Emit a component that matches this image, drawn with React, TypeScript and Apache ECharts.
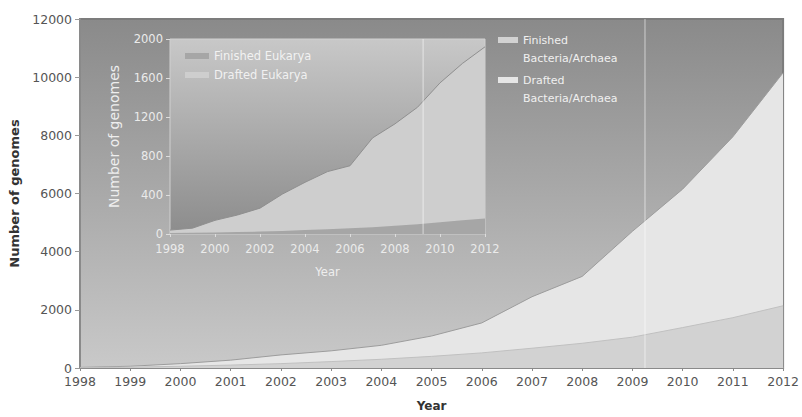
import React, { useEffect, useRef } from "react";
import * as echarts from "echarts";

// Years shared by both panels
const years = [1998, 1999, 2000, 2001, 2002, 2003, 2004, 2005, 2006, 2007, 2008, 2009, 2010, 2011, 2012];

// Bacteria/Archaea genome counts (finished at the bottom, drafted stacked on top)
const finishedBacteria = [10, 30, 60, 100, 150, 220, 300, 400, 520, 680, 850, 1060, 1390, 1730, 2140];
const draftedBacteria = [10, 30, 90, 170, 300, 370, 480, 700, 1030, 1770, 2300, 3640, 4760, 6220, 8010];

// Eukarya genome counts (inset, stacked the same way)
const finishedEukarya = [10, 12, 15, 20, 25, 30, 40, 50, 60, 70, 85, 100, 120, 140, 160];
const draftedEukarya = [30, 48, 125, 175, 240, 380, 490, 590, 640, 915, 1045, 1200, 1430, 1610, 1760];

// Date marked by the vertical guide line
const markerYear = 2009.25;

// Axis ranges
const mainMax = 12000;
const insetMax = 2000;

const FONT = "DejaVu Sans";

const pairs = (vals: number[]) => years.map((y, i) => [y, vals[i]]);
// Top edge of the drafted band = finished + drafted
const stacked = (base: number[], top: number[]) => years.map((y, i) => [y, base[i] + top[i]]);

// Legend label: first line sits beside the swatch, second line below it
const twoLine = (n: string) => " \n" + n.replace(" ", "\n");

export default function App() {
  const ref = useRef<HTMLDivElement>(null);

  useEffect(() => {
    if (!ref.current) return;
    const chart = echarts.init(ref.current, null, { renderer: "svg" });

    const guideSeries = (xi: number, top: number) => ({
      type: "line",
      xAxisIndex: xi,
      yAxisIndex: xi,
      data: [
        [markerYear, 0],
        [markerYear, top],
      ],
      showSymbol: false,
      silent: true,
      lineStyle: { color: "rgba(255,255,255,0.45)", width: 1.3 },
      z: 6,
    });

    const legendText = { color: "#f0f0f0", fontSize: 11, lineHeight: 18 };

    chart.setOption({
      animation: false,
      textStyle: { fontFamily: FONT },
      grid: [
        {
          left: 80,
          right: 15,
          top: 19,
          bottom: 44,
          show: true,
          borderColor: "#7c7c7c",
          borderWidth: 2,
          backgroundColor: new echarts.graphic.LinearGradient(0, 0, 0, 1, [
            { offset: 0, color: "#8a8a8a" },
            { offset: 0.5, color: "#a9a9a9" },
            { offset: 1, color: "#c9c9c9" },
          ]),
        },
        {
          left: 170,
          right: 317,
          top: 39,
          bottom: 183,
          show: true,
          borderColor: "#d0d0d0",
          borderWidth: 1,
          backgroundColor: new echarts.graphic.LinearGradient(0, 0, 0, 1, [
            { offset: 0, color: "#c8c8c8" },
            { offset: 1, color: "#8c8c8c" },
          ]),
        },
      ],
      xAxis: [
        {
          gridIndex: 0,
          type: "value",
          min: 1998,
          max: 2012,
          interval: 1,
          name: "Year",
          nameLocation: "middle",
          nameGap: 32,
          nameTextStyle: { fontFamily: FONT, fontSize: 12, fontWeight: "bold", color: "#333" },
          axisLine: { lineStyle: { color: "#8a8a8a", width: 2 } },
          axisTick: { show: true, length: 3, lineStyle: { color: "#8a8a8a" } },
          axisLabel: { color: "#555", fontSize: 12.5, margin: 7, formatter: (v: number) => String(v) },
          splitLine: { show: false },
        },
        {
          gridIndex: 1,
          type: "value",
          min: 1998,
          max: 2012,
          interval: 2,
          name: "Year",
          nameLocation: "middle",
          nameGap: 32,
          nameTextStyle: { fontFamily: FONT, fontSize: 11.5, color: "#eeeeee" },
          axisLine: { show: false },
          axisTick: { show: true, length: 3, lineStyle: { color: "#dddddd" } },
          axisLabel: { color: "#ebebeb", fontSize: 11.5, margin: 9, formatter: (v: number) => String(v) },
          splitLine: { show: false },
        },
      ],
      yAxis: [
        {
          gridIndex: 0,
          type: "value",
          min: 0,
          max: mainMax,
          interval: 2000,
          name: "Number of genomes",
          nameLocation: "middle",
          nameGap: 50,
          nameTextStyle: { fontFamily: FONT, fontSize: 13, fontWeight: "bold", color: "#333" },
          axisLine: { show: true, lineStyle: { color: "#8a8a8a", width: 2 } },
          axisTick: { show: true, length: 5, lineStyle: { color: "#999" } },
          axisLabel: { color: "#555", fontSize: 12.5, margin: 8, formatter: (v: number) => String(v) },
          splitLine: { show: false },
        },
        {
          gridIndex: 1,
          type: "value",
          min: 0,
          max: insetMax,
          interval: 400,
          name: "Number of genomes",
          nameLocation: "middle",
          nameGap: 49,
          nameTextStyle: { fontFamily: FONT, fontSize: 14, color: "#eeeeee" },
          axisLine: { show: false },
          axisTick: { show: true, length: 4, lineStyle: { color: "#dddddd" } },
          axisLabel: { color: "#ebebeb", fontSize: 11.5, margin: 7, formatter: (v: number) => String(v) },
          splitLine: { show: false },
        },
      ],
      legend: [
        {
          data: ["Finished Bacteria/Archaea"],
          left: 493,
          top: 8,
          itemWidth: 20,
          itemHeight: 6,
          icon: "rect",
          formatter: twoLine,
          textStyle: legendText,
        },
        {
          data: ["Drafted Bacteria/Archaea"],
          left: 493,
          top: 48,
          itemWidth: 20,
          itemHeight: 6,
          icon: "rect",
          formatter: twoLine,
          textStyle: legendText,
        },
        {
          data: ["Finished Eukarya", "Drafted Eukarya"],
          left: 180,
          top: 45,
          orient: "vertical",
          itemWidth: 24,
          itemHeight: 6,
          itemGap: 7,
          icon: "rect",
          textStyle: { color: "rgba(255,255,255,0.8)", fontSize: 11.5 },
        },
      ],
      series: [
        {
          name: "Drafted Bacteria/Archaea",
          type: "line",
          xAxisIndex: 0,
          yAxisIndex: 0,
          data: stacked(finishedBacteria, draftedBacteria),
          showSymbol: false,
          color: "#e6e6e6",
          lineStyle: { color: "#9c9c9c", width: 1 },
          areaStyle: { color: "#e6e6e6", opacity: 1 },
          z: 2,
        },
        {
          name: "Finished Bacteria/Archaea",
          type: "line",
          xAxisIndex: 0,
          yAxisIndex: 0,
          data: pairs(finishedBacteria),
          showSymbol: false,
          color: "#d2d2d2",
          lineStyle: { color: "#c0c0c0", width: 1 },
          areaStyle: { color: "#d2d2d2", opacity: 1 },
          z: 3,
        },
        guideSeries(0, mainMax),
        {
          name: "Drafted Eukarya",
          type: "line",
          xAxisIndex: 1,
          yAxisIndex: 1,
          data: stacked(finishedEukarya, draftedEukarya),
          showSymbol: false,
          color: "#cecece",
          lineStyle: { color: "#8f8f8f", width: 1 },
          areaStyle: { color: "#cecece", opacity: 1 },
          z: 4,
        },
        {
          name: "Finished Eukarya",
          type: "line",
          xAxisIndex: 1,
          yAxisIndex: 1,
          data: pairs(finishedEukarya),
          showSymbol: false,
          color: "#a6a6a6",
          lineStyle: { width: 0 },
          areaStyle: { color: "#a6a6a6", opacity: 1 },
          z: 5,
        },
        guideSeries(1, insetMax),
      ],
    });

    return () => chart.dispose();
  }, []);

  return <div ref={ref} style={{ width: 802, height: 417, position: "absolute", left: 0, top: 0 }} />;
}
